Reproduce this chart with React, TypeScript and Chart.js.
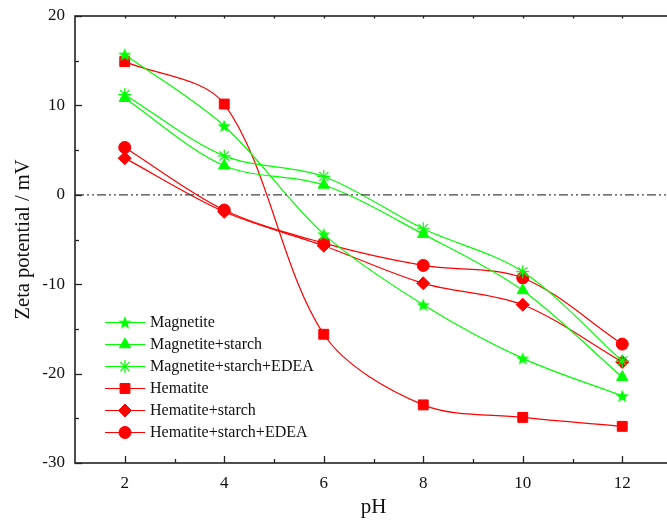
import React, { useEffect, useRef } from "react";
import { Chart, registerables } from "chart.js";
import { drawPoint } from "chart.js/helpers";

Chart.register(...registerables);

const pH = [2, 4, 6, 8, 10, 12];
const magnetite = [15.7, 7.7, -4.4, -12.3, -18.3, -22.5];
const magnetiteStarch = [10.8, 3.25, 1.1, -4.4, -10.7, -20.4];
const magnetiteStarchEDEA = [11.2, 4.35, 2.05, -3.8, -8.6, -18.6];
const hematite = [14.9, 10.15, -15.6, -23.5, -24.9, -25.9];
const hematiteStarch = [4.1, -1.9, -5.7, -9.9, -12.3, -18.7];
const hematiteStarchEDEA = [5.3, -1.7, -5.4, -7.9, -9.3, -16.7];

const xTickLabels = [2, 4, 6, 8, 10, 12];
const xMinorTicks = [3, 5, 7, 9, 11];
const yTickLabels = [-30, -20, -10, 0, 10, 20];
const yMinorTicks = [-25, -15, -5, 5, 15];
const zeroLine = [1, 13];

const GREEN = "#00FF00";
const RED = "#FF0000";
const FONT = "'Liberation Serif', 'Times New Roman', serif";

function makeStar(color: string, r: number) {
  const size = Math.ceil(r * 2 + 2);
  const c = document.createElement("canvas");
  c.width = size;
  c.height = size;
  const ctx = c.getContext("2d")!;
  const cx = size / 2;
  const cy = size / 2 + 0.6;
  const inner = r * 0.42;
  ctx.beginPath();
  for (let i = 0; i < 10; i++) {
    const rad = i % 2 === 0 ? r : inner;
    const a = -Math.PI / 2 + (i * Math.PI) / 5;
    const px = cx + rad * Math.cos(a);
    const py = cy + rad * Math.sin(a);
    if (i === 0) ctx.moveTo(px, py);
    else ctx.lineTo(px, py);
  }
  ctx.closePath();
  ctx.fillStyle = color;
  ctx.fill();
  return c;
}

const framePlugin = {
  id: "frameTicks",
  afterDraw(chart: any) {
    const { ctx, chartArea } = chart;
    const xs = chart.scales.x;
    const ys = chart.scales.y;
    ctx.save();
    ctx.strokeStyle = "#222";
    ctx.lineWidth = 1.6;
    ctx.strokeRect(chartArea.left, chartArea.top, chartArea.right - chartArea.left, chartArea.bottom - chartArea.top);
    ctx.lineWidth = 1.3;
    const tick = (x1: number, y1: number, x2: number, y2: number) => {
      ctx.beginPath();
      ctx.moveTo(x1, y1);
      ctx.lineTo(x2, y2);
      ctx.stroke();
    };
    xTickLabels.forEach((v) => {
      const px = Math.round(xs.getPixelForValue(v)) + 0.5;
      tick(px, chartArea.bottom, px, chartArea.bottom - 7);
      tick(px, chartArea.top, px, chartArea.top + 2.5);
    });
    xMinorTicks.forEach((v) => {
      const px = Math.round(xs.getPixelForValue(v)) + 0.5;
      tick(px, chartArea.bottom, px, chartArea.bottom - 4);
      tick(px, chartArea.top, px, chartArea.top + 2.5);
    });
    yTickLabels.forEach((v) => {
      const py = Math.round(ys.getPixelForValue(v)) + 0.5;
      tick(chartArea.left, py, chartArea.left + 7, py);
    });
    yMinorTicks.forEach((v) => {
      const py = Math.round(ys.getPixelForValue(v)) + 0.5;
      tick(chartArea.left, py, chartArea.left + 4, py);
    });
    ctx.restore();
  },
};

const legendPlugin = {
  id: "insideLegend",
  afterDraw(chart: any) {
    const { ctx, chartArea } = chart;
    const x0 = chartArea.left + 30;
    let y = chartArea.bottom - 141;
    ctx.save();
    chart.data.datasets.forEach((ds: any) => {
      if (!ds.inLegend) return;
      ctx.strokeStyle = ds.borderColor;
      ctx.lineWidth = ds.borderWidth;
      ctx.setLineDash([]);
      ctx.beginPath();
      ctx.moveTo(x0, y + 0.5);
      ctx.lineTo(x0 + 40, y + 0.5);
      ctx.stroke();
      ctx.fillStyle = ds.pointBackgroundColor;
      ctx.strokeStyle = ds.pointBorderColor;
      ctx.lineWidth = ds.pointBorderWidth;
      drawPoint(ctx, { pointStyle: ds.pointStyle, radius: ds.pointRadius, rotation: 0, borderWidth: ds.pointBorderWidth }, x0 + 20, y + 0.5);
      ctx.fillStyle = "#111";
      ctx.font = `16px ${FONT}`;
      ctx.textBaseline = "middle";
      ctx.textAlign = "left";
      ctx.fillText(ds.label, x0 + 45, y + 1);
      y += 22;
    });
    ctx.restore();
  },
};

export default function App() {
  const ref = useRef<HTMLCanvasElement | null>(null);
  useEffect(() => {
    if (!ref.current) return;
    const starImg = makeStar(GREEN, 7);
    const mk = (label: string, values: number[], color: string, style: any, radius: number, bw = 1) => ({
      label,
      data: pH.map((x, i) => ({ x, y: values[i] })),
      borderColor: color,
      backgroundColor: color,
      borderWidth: 1.2,
      pointStyle: style,
      pointRadius: radius,
      pointHoverRadius: radius,
      pointBackgroundColor: color,
      pointBorderColor: color,
      pointBorderWidth: bw,
      tension: 0.32,
      fill: false,
      inLegend: true,
    });
    const chart = new Chart(ref.current, {
      type: "line",
      data: {
        datasets: [
          {
            label: "zero",
            data: zeroLine.map((x) => ({ x, y: 0 })),
            borderColor: "#444",
            borderWidth: 1.2,
            borderDash: [9, 3, 2, 3, 2, 3],
            pointRadius: 0,
            fill: false,
            inLegend: false,
          } as any,
          mk("Magnetite", magnetite, GREEN, starImg, 7),
          mk("Magnetite+starch", magnetiteStarch, GREEN, "triangle", 6.5),
          mk("Magnetite+starch+EDEA", magnetiteStarchEDEA, GREEN, "star", 6.5, 1.2),
          mk("Hematite", hematite, RED, "rect", 7),
          mk("Hematite+starch", hematiteStarch, RED, "rectRot", 6.5),
          mk("Hematite+starch+EDEA", hematiteStarchEDEA, RED, "circle", 6),
        ],
      },
      options: {
        responsive: false,
        animation: false,
        layout: { padding: { left: 0, top: 16, right: 5, bottom: 0 } },
        plugins: { legend: { display: false }, tooltip: { enabled: false } },
        scales: {
          x: {
            type: "linear",
            min: 1,
            max: 13,
            grid: { display: false, drawTicks: false },
            border: { display: false },
            afterBuildTicks: (s: any) => {
              s.ticks = xTickLabels.map((v) => ({ value: v }));
            },
            afterFit: (s: any) => {
              s.height = 57;
              s.paddingLeft = 0;
              s.paddingRight = 0;
            },
            ticks: { padding: 10, color: "#111", font: { family: FONT, size: 17 }, maxRotation: 0, autoSkip: false },
            title: { display: true, text: "pH", color: "#111", font: { family: FONT, size: 21 }, padding: { top: 0, bottom: 0 } },
          },
          y: {
            type: "linear",
            min: -30,
            max: 20,
            grid: { display: false, drawTicks: false },
            border: { display: false },
            afterBuildTicks: (s: any) => {
              s.ticks = yTickLabels.map((v) => ({ value: v }));
            },
            afterFit: (s: any) => {
              s.width = 75;
              s.paddingTop = 0;
              s.paddingBottom = 0;
            },
            ticks: { padding: 10, color: "#111", font: { family: FONT, size: 17 }, autoSkip: false },
            title: { display: true, text: "Zeta potential / mV", color: "#111", font: { family: FONT, size: 20.5 }, padding: { top: 11, bottom: 0 } },
          },
        },
      } as any,
      plugins: [framePlugin, legendPlugin],
    });
    return () => chart.destroy();
  }, []);
  return (
    <div style={{ position: "absolute", left: 0, top: 0, width: 667, height: 520, overflow: "hidden", background: "#fff" }}>
      <canvas ref={ref} width={680} height={520} style={{ width: 680, height: 520, display: "block" }} />
    </div>
  );
}
